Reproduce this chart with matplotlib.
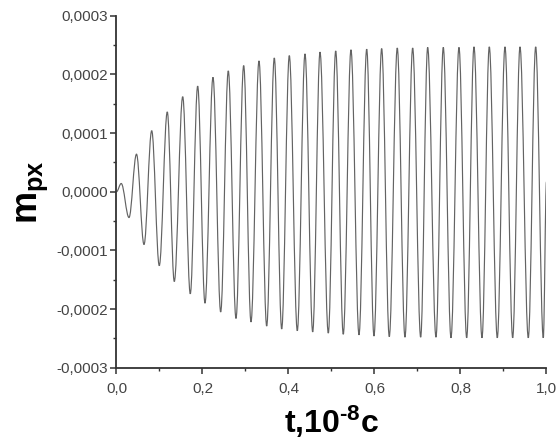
import matplotlib
matplotlib.use("Agg")
import matplotlib.pyplot as plt
from matplotlib.path import Path
from matplotlib.patches import PathPatch
from matplotlib.ticker import MultipleLocator, FuncFormatter

plt.rcParams['font.family'] = ['Liberation Sans', 'DejaVu Sans']
plt.rcParams['mathtext.fontset'] = 'custom'
plt.rcParams['mathtext.rm'] = 'Liberation Sans'
plt.rcParams['mathtext.bf'] = 'Liberation Sans:bold'
plt.rcParams['mathtext.it'] = 'Liberation Sans:italic'

# start of the signal (t in 1e-8 s, m_px)
start_t = [0.0, 0.011]
start_m = [0.0, 0.000014]

# maxima of m_px (units of 1e-4)
peak_t = [0.0465, 0.0819, 0.1181, 0.1540, 0.1888, 0.2244, 0.2600, 0.2958, 0.3314,
          0.3670, 0.4019, 0.4384, 0.4733, 0.5098, 0.5453, 0.5819, 0.6167, 0.6530,
          0.6888, 0.7237, 0.7600, 0.7965, 0.8314, 0.8670, 0.9035, 0.9384, 0.9749]
peak_m = [0.64, 1.04, 1.36, 1.62, 1.80, 1.95, 2.06, 2.15, 2.23,
          2.28, 2.32, 2.35, 2.38, 2.40, 2.42, 2.43, 2.44, 2.45,
          2.45, 2.46, 2.46, 2.46, 2.47, 2.47, 2.47, 2.47, 2.47]

# minima of m_px (units of 1e-4)
trough_t = [0.0291, 0.0640, 0.0995, 0.1344, 0.1716, 0.2058, 0.2423, 0.2779, 0.3128,
            0.3493, 0.3842, 0.4205, 0.4563, 0.4926, 0.5274, 0.5640, 0.5988, 0.6344,
            0.6709, 0.7074, 0.7430, 0.7779, 0.8144, 0.8500, 0.8856, 0.9214, 0.9577,
            0.9926]
trough_m = [-0.44, -0.90, -1.26, -1.53, -1.74, -1.90, -2.05, -2.16, -2.22,
            -2.29, -2.34, -2.37, -2.39, -2.41, -2.43, -2.44, -2.46, -2.47,
            -2.48, -2.48, -2.48, -2.49, -2.49, -2.49, -2.49, -2.49, -2.49,
            -2.49]

end_t = [1.0]
end_m = [0.000017]

# merge extrema in time order
pts = list(zip(start_t, start_m))
pts += [(t, v * 1e-4) for t, v in zip(peak_t, peak_m)]
pts += [(t, v * 1e-4) for t, v in zip(trough_t, trough_m)]
pts += list(zip(end_t, end_m))
pts.sort()

# smooth curve between turning points: cubic segments with flat ends
verts = [pts[0]]
codes = [Path.MOVETO]
k = 0.363
for (t0, m0), (t1, m1) in zip(pts[:-1], pts[1:]):
    dt = t1 - t0
    verts += [(t0 + k * dt, m0), (t1 - k * dt, m1), (t1, m1)]
    codes += [Path.CURVE4] * 3

fig = plt.figure(figsize=(5.59, 4.48), dpi=100)
ax = fig.add_axes([0.2084, 0.1792, 0.7692, 0.7857])
ax.add_patch(PathPatch(Path(verts, codes), fill=False, edgecolor='#636363', lw=0.85))

ax.set_xlim(0.0, 1.0)
ax.set_ylim(-0.0003, 0.0003)
for s in ['top', 'right']:
    ax.spines[s].set_visible(False)
for s in ['left', 'bottom']:
    ax.spines[s].set_linewidth(1.3)
    ax.spines[s].set_color('#333333')

ax.xaxis.set_major_locator(MultipleLocator(0.2))
ax.xaxis.set_minor_locator(MultipleLocator(0.1))
ax.yaxis.set_major_locator(MultipleLocator(0.0001))
ax.yaxis.set_minor_locator(MultipleLocator(0.00005))
ax.xaxis.set_major_formatter(FuncFormatter(lambda v, p: f'{v:.1f}'.replace('.', ',')))
ax.yaxis.set_major_formatter(FuncFormatter(lambda v, p: f'{v:.4f}'.replace('.', ',')))
ax.tick_params(which='major', direction='out', length=4, width=1.1, color='#333333',
               labelsize=11, labelcolor='#444444')
ax.tick_params(which='minor', direction='out', length=2.5, width=1.0, color='#333333')
ax.tick_params(axis='x', which='major', pad=6)
ax.tick_params(axis='y', which='major', pad=2)

ax.set_xlabel('$\\mathbf{t{,}10^{\u20108}c}$', fontsize=23, labelpad=6)
ax.set_ylabel(r'$\mathbf{m_{px}}$', fontsize=26, labelpad=5)

fig.savefig('out.png', dpi=100)
